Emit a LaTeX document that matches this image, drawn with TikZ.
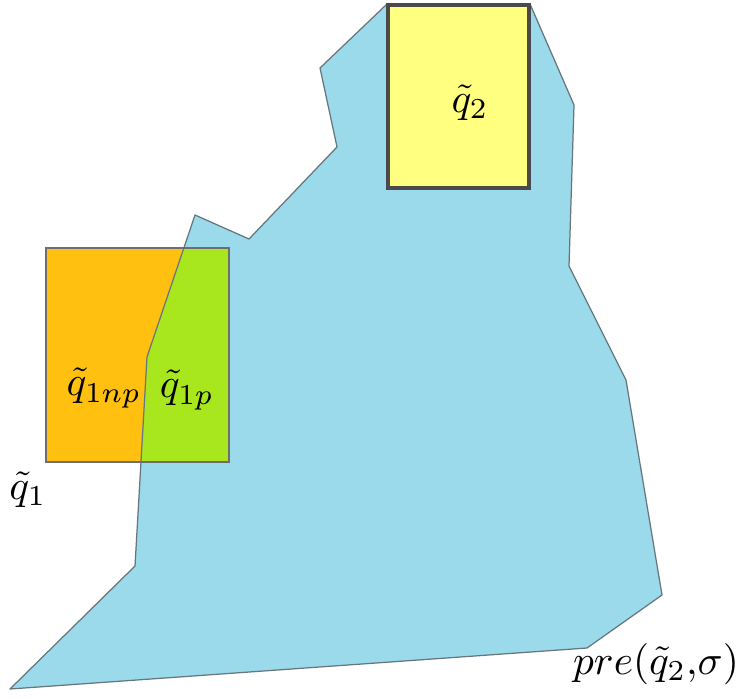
\documentclass[tikz,border=0pt]{standalone}
\usepackage{tikz}
\usetikzlibrary{positioning}
\definecolor{PreFill}{HTML}{9BDAEA}
\definecolor{PreBord}{HTML}{66767C}
\definecolor{NpFill}{HTML}{FFC010}
\definecolor{PFill}{HTML}{A8E61E}
\definecolor{QtwoFill}{HTML}{FFFF80}
\definecolor{BoxBord}{HTML}{4A4A4A}
\tikzset{
  region/.style={fill=PreFill, draw=PreBord, line width=0.3pt, line join=round},
  cellA/.style={fill=NpFill, draw=none},
  cellB/.style={fill=PFill, draw=none},
  cellbord/.style={draw=BoxBord!80, line width=0.45pt},
  tgt/.style={fill=QtwoFill, draw=BoxBord, line width=0.8pt},
  lbl/.style={inner sep=1pt},
}
\begin{document}
\begin{tikzpicture}[x=0.0085cm, y=-0.0085cm]
\useasboundingbox (0,0) rectangle (743,698);

% ======================= pre-image of q2 ============================================
\def\prepath{(10,689) -- (135,566) -- (147,357) -- (195,215) -- (249,239)
  -- (337,147) -- (320,68) -- (387,4) -- (530,4) -- (574,105) -- (569,266)
  -- (626,380) -- (662,595) -- (587,648) -- cycle}
\path[region] \prepath;

% ======================= cell q1, split by the pre-image ============================
\path[cellA] (46,248) rectangle (229,462);
\begin{scope}
  \clip (46,248) rectangle (229,462);
  \path[cellB, draw=PreBord, line width=0.3pt] \prepath;
\end{scope}
\draw[cellbord] (46,248) rectangle (229,462);

% ======================= cell q2 ====================================================
\draw[tgt] (388,5) rectangle (529,188);

% ======================= labels =====================================================
\node[lbl] (qtwo) at (470,103) {$\tilde{q}_2$};
\node[lbl] (qnp) at (104,388) {$\tilde{q}_{1np}$};
\node[lbl] (qp) at (187,390) {$\tilde{q}_{1p}$};
\node[lbl] (qone) at (28,490) {$\tilde{q}_1$};
\node[lbl] (pre) at (656,664) {$pre(\tilde{q}_2{,}\sigma)$};

\end{tikzpicture}
\end{document}
